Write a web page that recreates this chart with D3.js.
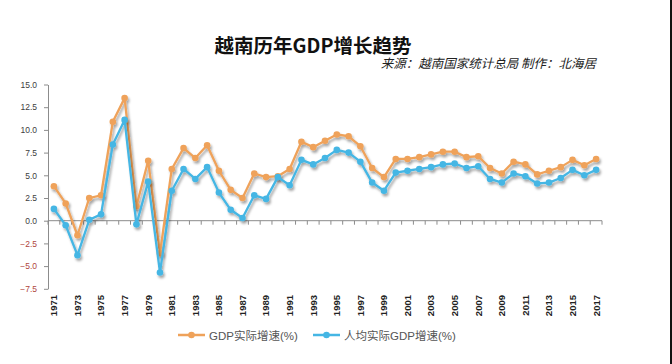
<!DOCTYPE html>
<html>
<head>
<meta charset="utf-8">
<script src="https://cdn.jsdelivr.net/npm/d3@7"></script>
<style>
    body { margin: 0; background: #fff; }
    svg { display: block; }
</style>
</head>
<body>
<svg id="chart" width="672" height="364"></svg>
<script>
const years = d3.range(1971, 2018)

// GDP实际增速(%)
const gdpGrowth = [
    3.8, 1.9, -1.6, 2.5, 2.8, 10.9, 13.5, 1.6, 6.6, -3.6,
    5.7, 8.0, 6.9, 8.3, 5.5, 3.4, 2.5, 5.2, 4.8, 4.9,
    5.7, 8.7, 8.1, 8.8, 9.5, 9.3, 8.2, 5.8, 4.8, 6.8,
    6.8, 7.0, 7.3, 7.6, 7.6, 7.0, 7.1, 5.8, 5.2, 6.5,
    6.2, 5.1, 5.5, 5.9, 6.7, 6.1, 6.8
]

// 人均实际GDP增速(%)
const perCapitaGrowth = [
    1.3, -0.5, -3.8, 0.1, 0.7, 8.4, 11.1, -0.4, 4.3, -5.7,
    3.3, 5.7, 4.6, 5.9, 3.1, 1.2, 0.3, 2.8, 2.4, 4.8,
    3.9, 6.7, 6.2, 6.9, 7.8, 7.5, 6.5, 4.2, 3.3, 5.3,
    5.5, 5.7, 5.9, 6.2, 6.3, 5.8, 6.0, 4.6, 4.2, 5.2,
    4.9, 4.1, 4.2, 4.7, 5.6, 5.0, 5.6
]

const yTicks = [-7.5, -5, -2.5, 0, 2.5, 5, 7.5, 10, 12.5, 15]
const xLabels = years.filter(y => (y - 1971) % 2 === 0)

const seriesNames = ["GDP实际增速(%)", "人均实际GDP增速(%)"]
const colors = ["#efa25a", "#45b6e4"]

const svg = d3.select("#chart")

const plot = {left: 48, right: 602, top: 84.5, bottom: 288.8}

const x = d3.scaleBand()
    .domain(years)
    .range([plot.left, plot.right])
    .padding(0)

const y = d3.scaleLinear()
    .domain([-7.5, 15])
    .range([plot.bottom, plot.top])

const cx = d => x(d) + x.bandwidth() / 2

// drop shadow like the excel line effect
const defs = svg.append("defs")
defs.append("filter")
    .attr("id", "shadow")
    .attr("x", "-10%").attr("y", "-10%")
    .attr("width", "130%").attr("height", "140%")
    .append("feDropShadow")
    .attr("dx", 1.5)
    .attr("dy", 2.5)
    .attr("stdDeviation", 1.3)
    .attr("flood-color", "#000")
    .attr("flood-opacity", 0.35)

// title
svg.append("text")
    .attr("x", 313)
    .attr("y", 53)
    .attr("text-anchor", "middle")
    .style("font-family", "'Noto Sans CJK SC', sans-serif")
    .style("font-weight", "bold")
    .style("font-size", "19.5px")
    .style("fill", "#111")
    .text("越南历年GDP增长趋势")

svg.append("text")
    .attr("x", 596)
    .attr("y", 68)
    .attr("text-anchor", "end")
    .style("font-family", "'Noto Sans CJK SC', sans-serif")
    .style("font-style", "italic")
    .style("font-size", "12.5px")
    .style("fill", "#222")
    .text("来源：越南国家统计总局 制作：北海居")

// y axis
const yAxis = svg.append("g")
    .attr("class", "y axis")
    .attr("transform", "translate(" + plot.left + ",0)")
    .call(d3.axisLeft(y).tickValues(yTicks).tickFormat(d3.format(".1f")).tickSize(4).tickSizeOuter(0).tickPadding(7))
yAxis.select(".domain").attr("stroke", "#8c8c8c")
yAxis.selectAll(".tick line").attr("stroke", "#8c8c8c")
yAxis.selectAll(".tick text")
    .style("font-family", "'Liberation Sans', Arial, sans-serif")
    .style("font-size", "8.5px")
    .style("fill", d => d < 0 ? "#b0463e" : "#404040")

// x axis at zero
const xAxis = svg.append("g").attr("class", "x axis")
xAxis.append("line")
    .attr("x1", plot.left).attr("x2", plot.right)
    .attr("y1", y(0)).attr("y2", y(0))
    .attr("stroke", "#8c8c8c")
xAxis.selectAll("line.tick")
    .data(d3.range(years.length + 1))
    .enter()
    .append("line")
    .attr("class", "tick")
    .attr("x1", i => plot.left + i * x.step())
    .attr("x2", i => plot.left + i * x.step())
    .attr("y1", y(0))
    .attr("y2", y(0) + 4)
    .attr("stroke", "#8c8c8c")

// x labels sit at the bottom of the plot
svg.append("g")
    .selectAll("text")
    .data(xLabels)
    .enter()
    .append("text")
    .attr("transform", d => "translate(" + (cx(d) + 3.4) + "," + 295 + ") rotate(-90)")
    .attr("text-anchor", "end")
    .style("font-family", "'Liberation Sans', Arial, sans-serif")
    .style("font-weight", "bold")
    .style("font-size", "9.5px")
    .style("fill", "#222")
    .text(d => d)

// series
const series = [gdpGrowth, perCapitaGrowth]
const line = d3.line()
    .x((d, i) => cx(years[i]))
    .y(d => y(d))

series.forEach((values, k) => {
    const g = svg.append("g").attr("filter", "url(#shadow)")
    g.append("path")
        .datum(values)
        .attr("d", line)
        .attr("fill", "none")
        .attr("stroke", colors[k])
        .attr("stroke-width", 2.3)
        .attr("stroke-linejoin", "round")
    g.selectAll("circle")
        .data(values)
        .enter()
        .append("circle")
        .attr("cx", (d, i) => cx(years[i]))
        .attr("cy", d => y(d))
        .attr("r", 3.3)
        .attr("fill", colors[k])
})

// legend
const legendX = [178, 313]
seriesNames.forEach((name, k) => {
    const lg = svg.append("g").attr("transform", "translate(" + legendX[k] + ",335)")
    lg.append("line")
        .attr("x1", 0).attr("x2", 27)
        .attr("stroke", colors[k])
        .attr("stroke-width", 2.5)
    lg.append("circle")
        .attr("cx", 13.5)
        .attr("r", 3.3)
        .attr("fill", colors[k])
    lg.append("text")
        .attr("x", 31)
        .attr("y", 4.5)
        .style("font-family", "'Liberation Sans', 'Noto Sans CJK SC', sans-serif")
        .style("font-size", "11.5px")
        .style("fill", "#555")
        .text(name)
})

// dark strip on the right edge of the screenshot
svg.append("rect")
    .attr("x", 670).attr("y", 0)
    .attr("width", 2).attr("height", 364)
    .attr("fill", "#111")
</script>
</body>
</html>
